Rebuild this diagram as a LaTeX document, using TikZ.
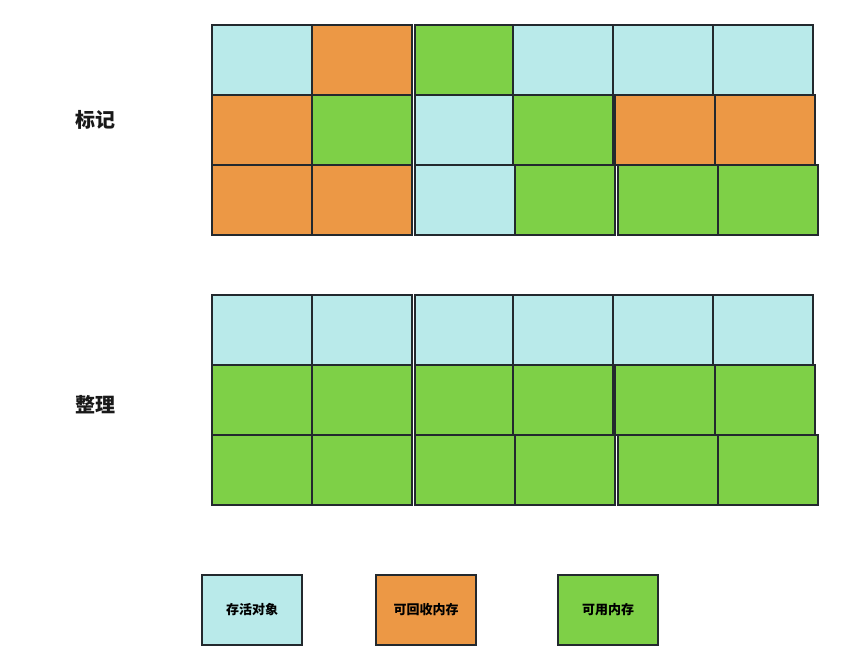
\documentclass[tikz,border=0pt]{standalone}
\usepackage{fontspec}
\newfontfamily\cjk{Noto Sans CJK SC}
\usetikzlibrary{positioning}
\definecolor{alive}{HTML}{B9EAEA}
\definecolor{garbage}{HTML}{EC9845}
\definecolor{usable}{HTML}{7ED047}
\definecolor{cellline}{HTML}{23292E}

\begin{document}
\begin{tikzpicture}[x=1pt,y=-1pt,
	cell/.style={draw=cellline,line width=1.5pt,inner sep=0pt,minimum height=70pt},
	title/.style={text=black!90,font=\cjk\bfseries\fontsize{20}{24}\selectfont},
	key/.style={cell,minimum width=100pt,font=\cjk\bfseries\fontsize{13}{15}\selectfont},]
	\useasboundingbox (0,0) rectangle (843,670);

	\node[title] (mark) at (95,120) {标记};
	\node[title] (tidy) at (95,405) {整理};

	% marked memory
	\foreach \a/\b/\r/\c [count=\i] in {212/312/1/alive, 312/412/1/garbage, 415/513/1/usable, 513/613/1/alive, 613/713/1/alive, 713/813/1/alive,
		212/312/2/garbage, 312/412/2/usable, 415/513/2/alive, 513/613/2/usable, 615/715/2/garbage, 715/815/2/garbage,
		212/312/3/garbage, 312/412/3/garbage, 415/515/3/alive, 515/615/3/usable, 618/718/3/usable, 718/818/3/usable}
		\node[cell,fill=\c,minimum width={\b-\a}] (m\i) at ({(\a+\b)/2},{70*\r-10}) {};

	% compacted memory
	\foreach \a/\b/\r/\c [count=\i] in {212/312/1/alive, 312/412/1/alive, 415/513/1/alive, 513/613/1/alive, 613/713/1/alive, 713/813/1/alive,
		212/312/2/usable, 312/412/2/usable, 415/513/2/usable, 513/613/2/usable, 615/715/2/usable, 715/815/2/usable,
		212/312/3/usable, 312/412/3/usable, 415/515/3/usable, 515/615/3/usable, 618/718/3/usable, 718/818/3/usable}
		\node[cell,fill=\c,minimum width={\b-\a}] (t\i) at ({(\a+\b)/2},{70*\r+260}) {};

	% legend
	\node[key,fill=alive] (k1) at (252,610) {存活对象};
	\node[key,fill=garbage,right=72.5pt of k1] (k2) {可回收内存};
	\node[key,fill=usable,right=80.5pt of k2] (k3) {可用内存};
\end{tikzpicture}
\end{document}
